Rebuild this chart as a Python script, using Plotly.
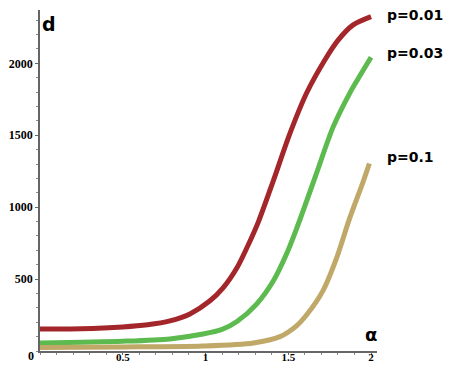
import plotly.graph_objects as go

alpha_r = [0, 0.25, 0.5, 0.65, 0.785, 0.906, 1.027, 1.106, 1.19, 1.25, 1.32, 1.41, 1.51, 1.61, 1.72, 1.8, 1.89, 2.0]
d_r = [153, 155, 167, 182, 209, 258, 349, 439, 579, 718, 900, 1185, 1513, 1792, 2022, 2160, 2266, 2325]

alpha_g = [0, 0.5, 0.785, 0.985, 1.1, 1.19, 1.31, 1.41, 1.49, 1.55, 1.61, 1.67, 1.77, 1.87, 1.92, 2.0]
d_g = [56, 68, 84, 118, 150, 205, 328, 488, 676, 850, 1040, 1234, 1555, 1790, 1890, 2043]

alpha_t = [0, 0.5, 0.985, 1.29, 1.45, 1.55, 1.61, 1.71, 1.79, 1.87, 1.95, 1.99]
d_t = [25, 28, 35, 56, 100, 175, 250, 420, 640, 920, 1170, 1304]

series = [
    ("p=0.01", alpha_r, d_r, "#a3262b"),
    ("p=0.03", alpha_g, d_g, "#5cba4f"),
    ("p=0.1", alpha_t, d_t, "#bfa868"),
]

x_ticks = [0.5, 1, 1.5, 2]
x_labels = ["0.5", "1", "1.5", "2"]
y_ticks = [500, 1000, 1500, 2000]
y_labels = ["500", "1000", "1500", "2000"]

fig = go.Figure()
for name, a, d, c in series:
    fig.add_trace(go.Scatter(x=a, y=d, mode="lines", name=name,
                             line=dict(color=c, width=5, shape="spline", smoothing=0.8)))

tickfont_y = dict(family="Liberation Serif", size=12, color="black", weight="bold")
tickfont_x = dict(family="Liberation Serif", size=11, color="black", weight="bold")
fig.update_layout(
    width=453, height=365,
    margin=dict(l=40, r=76, t=10, b=14),
    paper_bgcolor="white", plot_bgcolor="white",
    showlegend=False,
    xaxis=dict(range=[0, 2.036], tickvals=x_ticks, ticktext=x_labels, automargin=False,
               showgrid=False, zeroline=False, showline=True, linecolor="#666", linewidth=1.5,
               ticks="outside", ticklen=2, tickcolor="#666", tickfont=tickfont_x,
               ticklabelstandoff=-7,
               minor=dict(dtick=0.1, ticks="outside", ticklen=2, tickcolor="#888")),
    yaxis=dict(range=[0, 2371], tickvals=y_ticks, ticktext=y_labels, automargin=False,
               showgrid=False, zeroline=False, showline=True, linecolor="#666", linewidth=1.5,
               ticks="outside", ticklen=3, tickcolor="#666", tickfont=tickfont_y,
               minor=dict(dtick=100, ticks="outside", ticklen=2, tickcolor="#888")),
)

fig.add_annotation(x=0, y=0, xref="x", yref="y", text="<b>0</b>", showarrow=False,
                   xanchor="right", yanchor="middle", xshift=-4, yshift=-5,
                   font=dict(family="Liberation Serif", size=12, color="black"))
fig.add_annotation(x=0, y=1, xref="paper", yref="paper", text="<b>d</b>", showarrow=False,
                   xanchor="left", yanchor="top", xshift=0, yshift=-1,
                   font=dict(family="DejaVu Sans", size=19, color="black"))
fig.add_annotation(x=2.0, y=0, xref="x", yref="y", text="<b>α</b>", showarrow=False,
                   xanchor="center", yanchor="bottom", yshift=4,
                   font=dict(family="DejaVu Sans", size=18, color="black"))

label_shift = [2, 4, 6]
for (name, a, d, c), ys in zip(series, label_shift):
    fig.add_annotation(x=1, y=d[-1], xref="paper", yref="y", text="<b>" + name + "</b>",
                       showarrow=False, xanchor="left", yanchor="middle", xshift=8,
                       yshift=ys,
                       font=dict(family="DejaVu Sans", size=14, color="black"))

fig.write_html("out.html", config={"displayModeBar": False},
               post_script="document.body.style.margin='0';")
